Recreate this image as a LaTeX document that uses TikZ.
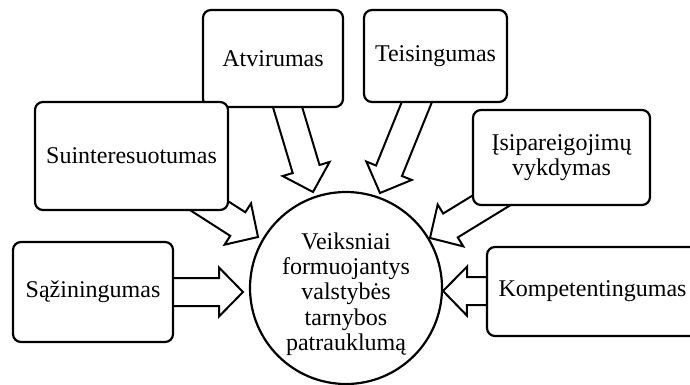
\documentclass[tikz,border=0pt]{standalone}
\usepackage{fontspec}
\setmainfont{Liberation Serif}
\usetikzlibrary{calc}
\tikzset{
  box/.style={draw, line width=2.2pt, rounded corners=8pt, fill=white, align=center, inner sep=0pt,
              font=\fontsize{24pt}{25.3pt}\selectfont},
  blk/.style={draw, line width=2pt, fill=white, line join=miter, miter limit=10},
  hub/.style={draw, circle, line width=2.2pt, fill=white, minimum size=192pt, inner sep=0pt},
  hubtext/.style={align=center, inner sep=0pt, font=\fontsize{24pt}{25.3pt}\selectfont},
}
\newcommand\blockarrow[2]{%
  \coordinate (hb) at ($(#2)!24pt!(#1)$);
  \draw[blk] ($(#1)!14pt!90:(#2)$) -- ($(hb)!14pt!90:(#2)$) -- ($(hb)!24.5pt!90:(#2)$) -- (#2)
     -- ($(hb)!24.5pt!-90:(#2)$) -- ($(hb)!14pt!-90:(#2)$) -- ($(#1)!14pt!-90:(#2)$) -- cycle;
}
\begin{document}
\begin{tikzpicture}[x=1pt, y=-1pt]
\path[use as bounding box] (0,0) rectangle (690,385);
\clip (0,0) rectangle (690,385);
% positions
\coordinate (atvP) at (273,58.5);
\coordinate (teiP) at (435.5,56);
\coordinate (suiP) at (131.5,156);
\coordinate (isiP) at (561.5,157.5);
\coordinate (sazP) at (93,292);
\coordinate (komP) at (592.5,291.5);
% arrow tips
\coordinate (atvTip) at (313,192);
\coordinate (teiTip) at (380,193);
\coordinate (suiTip) at (258,237);
\coordinate (isiTip) at (430,238);
\coordinate (sazTip) at (243,292);
\coordinate (komTip) at (443,291);
% arrows
\blockarrow{atvP}{atvTip}
\blockarrow{teiP}{teiTip}
\blockarrow{suiP}{suiTip}
\blockarrow{isiP}{isiTip}
\blockarrow{sazP}{sazTip}
\blockarrow{komP}{komTip}
% boxes
\node[box, minimum width=140pt, minimum height=97pt] (atv) at (atvP) {Atvirumas};
\node[box, minimum width=143pt, minimum height=92pt] (tei) at (teiP) {Teisingumas};
\node[box, minimum width=193pt, minimum height=108pt] (sui) at (suiP) {Suinteresuotumas};
\node[box, minimum width=177pt, minimum height=95pt] (isi) at (isiP) {Įsipareigojimų\\vykdymas};
\node[box, minimum width=160pt, minimum height=100pt] (saz) at (sazP) {Sąžiningumas};
\node[box, minimum width=211pt, minimum height=89pt] (kom) at (komP) {Kompetentingumas};
% centre
\node[hub] (c) at (346,288) {};
\node[hubtext] (ct) at (346,294) {Veiksniai\\formuojantys\\valstybės\\tarnybos\\patrauklumą};
\end{tikzpicture}
\end{document}
